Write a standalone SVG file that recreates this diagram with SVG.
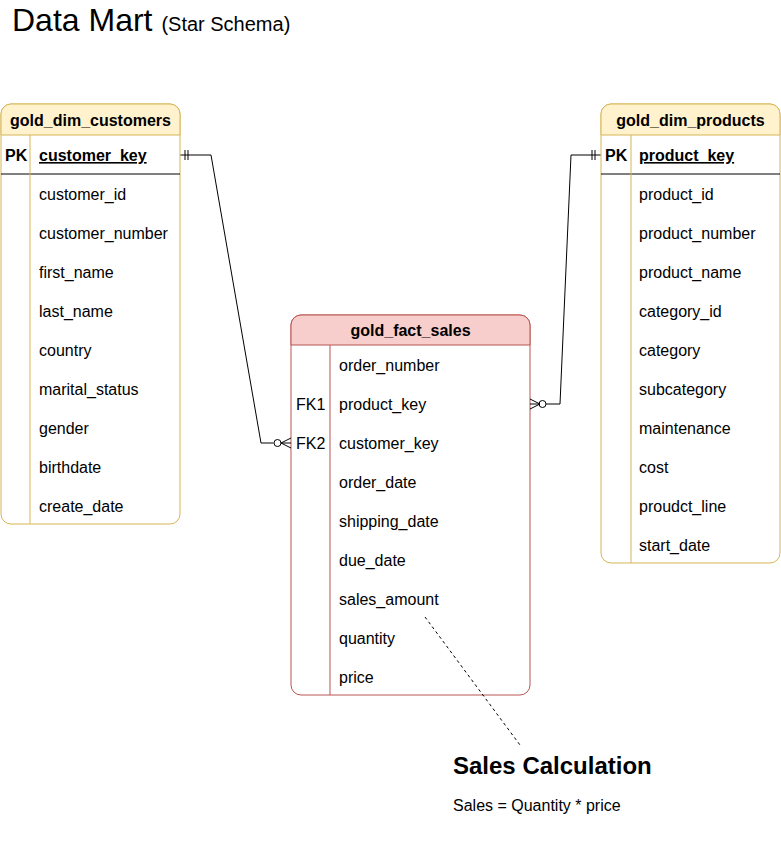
<svg xmlns="http://www.w3.org/2000/svg" width="781" height="867" viewBox="0 0 781 867">
<style>
  text { font-family: "Liberation Sans", Arial, sans-serif; fill: #000; }
  .row { font-size: 16px; }
  .hdr { font-size: 16px; font-weight: bold; text-anchor: middle; }
  .pk { font-size: 16px; font-weight: bold; }
  .dimbox { fill: #ffffff; stroke: #d6b656; stroke-width: 1; }
  .dimhdr { fill: #fff2cc; stroke: #d6b656; stroke-width: 1; }
  .dimline { stroke: #d6b656; stroke-width: 1; fill: none; }
  .factbox { fill: #ffffff; stroke: #b85450; stroke-width: 1; }
  .facthdr { fill: #f8cecc; stroke: #b85450; stroke-width: 1; }
  .factline { stroke: #b85450; stroke-width: 1; fill: none; }
  .pkline { stroke: #000; stroke-width: 1; }
  .conn { stroke: #000; stroke-width: 1; fill: none; }
  .mk { stroke: #000; stroke-width: 1; fill: #fff; }
</style>

<rect width="781" height="867" fill="#ffffff"/>

<g id="title">
  <text x="12" y="31" font-size="32">Data Mart <tspan font-size="20">(Star Schema)</tspan></text>
</g>

<g id="gold_dim_customers">
  <rect class="dimbox" x="1" y="104" width="179" height="420" rx="10" ry="10"/>
  <path class="dimhdr" d="M1,135 V114 A10,10 0 0 1 11,104 H170 A10,10 0 0 1 180,114 V135 Z"/>
  <line class="pkline" x1="1" y1="174" x2="180" y2="174"/>
  <line class="dimline" x1="30" y1="135" x2="30" y2="524"/>
  <text class="hdr" x="90.5" y="126">gold_dim_customers</text>
  <text class="pk" x="5" y="161">PK</text>
  <text class="pk" x="39" y="161" text-decoration="underline">customer_key</text>
  <text class="row" x="39" y="200">customer_id</text>
  <text class="row" x="39" y="239">customer_number</text>
  <text class="row" x="39" y="278">first_name</text>
  <text class="row" x="39" y="317">last_name</text>
  <text class="row" x="39" y="356">country</text>
  <text class="row" x="39" y="395">marital_status</text>
  <text class="row" x="39" y="434">gender</text>
  <text class="row" x="39" y="473">birthdate</text>
  <text class="row" x="39" y="512">create_date</text>
</g>

<g id="gold_dim_products">
  <rect class="dimbox" x="601" y="104" width="179" height="459" rx="10" ry="10"/>
  <path class="dimhdr" d="M601,135 V114 A10,10 0 0 1 611,104 H770 A10,10 0 0 1 780,114 V135 Z"/>
  <line class="pkline" x1="601" y1="174" x2="780" y2="174"/>
  <line class="dimline" x1="631" y1="135" x2="631" y2="563"/>
  <text class="hdr" x="690.5" y="126">gold_dim_products</text>
  <text class="pk" x="605" y="161">PK</text>
  <text class="pk" x="639" y="161" text-decoration="underline">product_key</text>
  <text class="row" x="639" y="200">product_id</text>
  <text class="row" x="639" y="239">product_number</text>
  <text class="row" x="639" y="278">product_name</text>
  <text class="row" x="639" y="317">category_id</text>
  <text class="row" x="639" y="356">category</text>
  <text class="row" x="639" y="395">subcategory</text>
  <text class="row" x="639" y="434">maintenance</text>
  <text class="row" x="639" y="473">cost</text>
  <text class="row" x="639" y="512">proudct_line</text>
  <text class="row" x="639" y="551">start_date</text>
</g>

<g id="gold_fact_sales">
  <rect class="factbox" x="291" y="315" width="239" height="380" rx="10" ry="10"/>
  <path class="facthdr" d="M291,345 V325 A10,10 0 0 1 301,315 H520 A10,10 0 0 1 530,325 V345 Z"/>
  <line class="factline" x1="330" y1="345" x2="330" y2="695"/>
  <text class="hdr" x="410.5" y="336">gold_fact_sales</text>
  <text class="row" x="339" y="371">order_number</text>
  <text class="row" x="296" y="410">FK1</text>
  <text class="row" x="339" y="410">product_key</text>
  <text class="row" x="296" y="449">FK2</text>
  <text class="row" x="339" y="449">customer_key</text>
  <text class="row" x="339" y="488">order_date</text>
  <text class="row" x="339" y="527">shipping_date</text>
  <text class="row" x="339" y="566">due_date</text>
  <text class="row" x="339" y="605">sales_amount</text>
  <text class="row" x="339" y="644">quantity</text>
  <text class="row" x="339" y="683">price</text>
</g>

<g id="sales_calculation">
  <text x="453" y="774" font-size="24" font-weight="bold">Sales Calculation</text>
  <text x="453" y="811" font-size="16">Sales = Quantity * price</text>
</g>

<g id="connectors">
  <!-- customers -> fact -->
  <path class="conn" d="M180.5,155 H211 L261,443 H273.5"/>
  <line class="pkline" x1="185" y1="150" x2="185" y2="160"/>
  <line class="pkline" x1="188" y1="150" x2="188" y2="160"/>
  <circle class="mk" cx="277.5" cy="443" r="3.5"/>
  <path class="conn" d="M281,443 L291,438 M281,443 H291 M281,443 L291,448"/>
  <!-- products -> fact -->
  <path class="conn" d="M600.5,155 H571 L560,404 H546"/>
  <line class="pkline" x1="592" y1="150" x2="592" y2="160"/>
  <line class="pkline" x1="595" y1="150" x2="595" y2="160"/>
  <circle class="mk" cx="542.5" cy="404" r="3.5"/>
  <path class="conn" d="M540,404 L530,399 M540,404 H530 M540,404 L530,409"/>
  <!-- note connector -->
  <path d="M425,617 L520,745" stroke="#000" stroke-width="1" stroke-dasharray="3,3" fill="none"/>
</g>
</svg>
